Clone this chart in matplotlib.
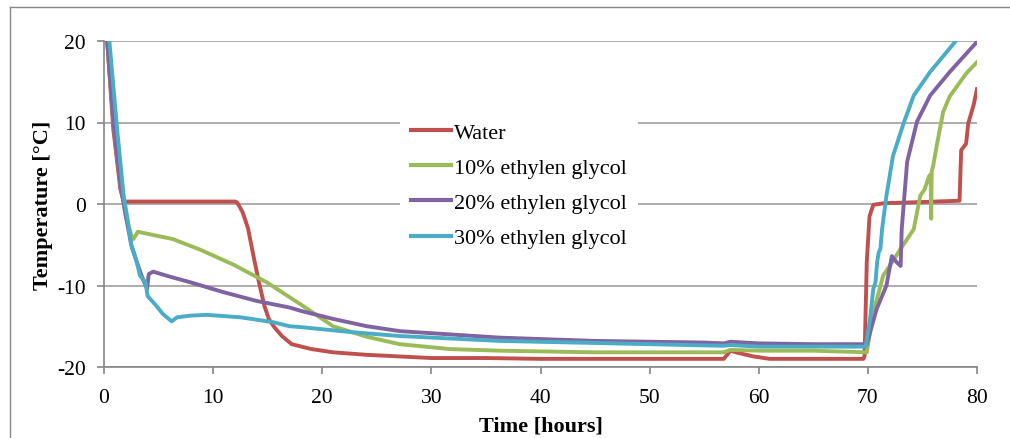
import matplotlib
matplotlib.use("Agg")
import matplotlib.pyplot as plt
from matplotlib.lines import Line2D

plt.rcParams["font.family"] = ["Liberation Serif", "DejaVu Serif"]
plt.rcParams["axes.unicode_minus"] = False

# series (time in hours, temperature in degC)
water_t = [0, 0.3, 0.85, 1.5, 1.8, 2.5, 6, 10, 12.0, 12.2, 12.7, 13.2, 13.7, 14.2, 14.7,
           15.1, 15.6, 16.3, 17.2, 19, 21, 24, 27, 30, 35, 40, 50, 56.8, 57.4, 58.2,
           59.5, 61, 65, 69.6, 69.7, 69.9, 70.15, 70.5, 71.5, 74, 78.4, 78.55, 79.0,
           79.2, 79.7, 80]
water_y = [21, 19.9, 9.2, 1.8, 0.3, 0.3, 0.3, 0.3, 0.3, 0.2, -1, -3, -6.4, -9.6, -12.5,
           -14.1, -15.1, -16.2, -17.2, -17.8, -18.2, -18.5, -18.7, -18.9, -18.9, -19,
           -19, -19, -18.0, -18.3, -18.7, -19, -19, -19, -18.6, -7.1, -1.5, -0.1, 0.1,
           0.2, 0.4, 6.6, 7.4, 9.9, 12.2, 14.1]

eg10_t = [0, 0.3, 0.9, 1.5, 2.0, 2.5, 2.7, 3.1, 4.5, 6.3, 8.8, 11.8, 14.9, 18, 21, 24.1,
          27.1, 31.7, 36.3, 45, 56.8, 57.4, 60, 65, 69.9, 70.5, 71.4, 72.2, 73, 74.2,
          74.8, 75.2, 75.6, 75.75, 75.8, 75.85, 76.0, 76.3, 76.9, 77.5, 78.2, 79, 80]
eg10_y = [21, 19.9, 9.5, 2.5, -1.5, -3.8, -4.3, -3.4, -3.8, -4.3, -5.6, -7.4, -9.6, -12.3,
          -15.0, -16.3, -17.2, -17.8, -18.0, -18.2, -18.2, -17.9, -18.0, -18.0, -18.2,
          -13.3, -8.8, -7.2, -5.5, -3.1, 1.0, 1.8, 3.4, 3.6, -1.8, 4.0, 4.8, 7.1, 11.3,
          13.2, 14.5, 16.0, 17.4]

eg20_t = [0, 0.3, 0.9, 1.5, 2.0, 2.5, 3.0, 3.5, 3.95, 4.1, 4.5, 6, 7.9, 10.9, 14, 17, 18,
          21, 24.1, 27.1, 31.7, 36.3, 45, 55, 56.8, 57.4, 60, 65, 69.9, 70.8, 71.7, 72.2,
          72.6, 73.0, 73.1, 73.6, 74.5, 75.7, 77.5, 80]
eg20_y = [21, 19.9, 9.5, 2.5, -1.5, -5, -7.1, -9.0, -10.4, -8.6, -8.3, -8.9, -9.6, -10.8,
          -11.9, -12.7, -13.1, -14.1, -15.0, -15.6, -16.0, -16.4, -16.8, -17.0, -17.1,
          -16.9, -17.1, -17.2, -17.2, -12.9, -10, -6.4, -7.1, -7.6, -3.1, 5.2, 10.1,
          13.3, 16.2, 19.9]

eg30_t = [0.2, 0.5, 1.2, 1.8, 2.2, 2.5, 3.0, 3.3, 3.8, 4.0, 4.8, 5.4, 6.2, 6.7, 7.9, 9.4,
          12.5, 15.5, 17, 18, 22.5, 27.1, 36.3, 50, 56.8, 57.4, 60, 65, 69.8, 70.2, 70.5,
          70.7, 70.85, 71.0, 71.15, 71.3, 71.7, 72.3, 73.3, 74.2, 75.7, 78.0, 78.5]
eg30_y = [21, 19.9, 9.2, 1.0, -2.2, -5.1, -7.1, -8.8, -9.6, -11.3, -12.5, -13.5, -14.4,
          -13.9, -13.7, -13.6, -13.9, -14.5, -15.0, -15.1, -15.7, -16.2, -16.8, -17.2,
          -17.4, -17.3, -17.5, -17.5, -17.5, -14.1, -10.4, -9.6, -7.1, -5.9, -5.5, -3.1,
          1.0, 5.9, 10, 13.3, 16.2, 19.9, 21]

labels = ["Water", "10% ethylen glycol", "20% ethylen glycol", "30% ethylen glycol"]
colors = ["#C0504D", "#9BBB59", "#8064A2", "#4BACC6"]
x_ticks = [0, 10, 20, 30, 40, 50, 60, 70, 80]
y_ticks = [-20, -10, 0, 10, 20]

fig = plt.figure(figsize=(10.1, 4.39), dpi=100)
ax = fig.add_axes([104 / 1010, 1 - 368 / 439, 873 / 1010, 326 / 439])

series = [(water_t, water_y), (eg10_t, eg10_y), (eg20_t, eg20_y), (eg30_t, eg30_y)]
for (t, y), lab, c in zip(series, labels, colors):
  ax.plot(t, y, color=c, lw=2.8, label=lab, solid_joinstyle="round")

ax.set_xlim(0, 80)
ax.set_ylim(-20, 20)
ax.set_xticks(x_ticks)
ax.set_yticks(y_ticks)
ax.yaxis.grid(True, color="#A0A0A0", lw=1.2)
ax.set_axisbelow(True)
for s in ["top", "right"]:
  ax.spines[s].set_visible(False)
for s in ["left", "bottom"]:
  ax.spines[s].set_color("#868686")
  ax.spines[s].set_linewidth(1.2)
ax.tick_params(axis="both", colors="#868686", length=5, width=1.2, labelsize=15.5,
               labelcolor="black")
ax.tick_params(axis="x", pad=10)
ax.tick_params(axis="y", pad=8)

ax.set_xlabel("Time [hours]", fontsize=16, fontweight="bold", labelpad=6)
ax.set_ylabel("Temperature [°C]", fontsize=16, fontweight="bold", labelpad=3)

leg = ax.legend(loc="upper left", bbox_to_anchor=(400 / 1010, 1 - 112 / 439),
                bbox_transform=fig.transFigure, fontsize=16, frameon=True,
                facecolor="white", edgecolor="none", framealpha=1, fancybox=False,
                handlelength=1.8, handletextpad=0.14, labelspacing=0.66,
                borderpad=0.5, borderaxespad=0)
for h in leg.get_lines():
  h.set_linewidth(3)

# outer chart border (partly cropped in the reference)
fig.add_artist(Line2D([10 / 1010, 10 / 1010], [0, 1 - 8 / 439], color="#868686", lw=1))
fig.add_artist(Line2D([10 / 1010, 1], [1 - 8 / 439, 1 - 8 / 439], color="#868686", lw=1))

fig.savefig("out.png", dpi=100)
